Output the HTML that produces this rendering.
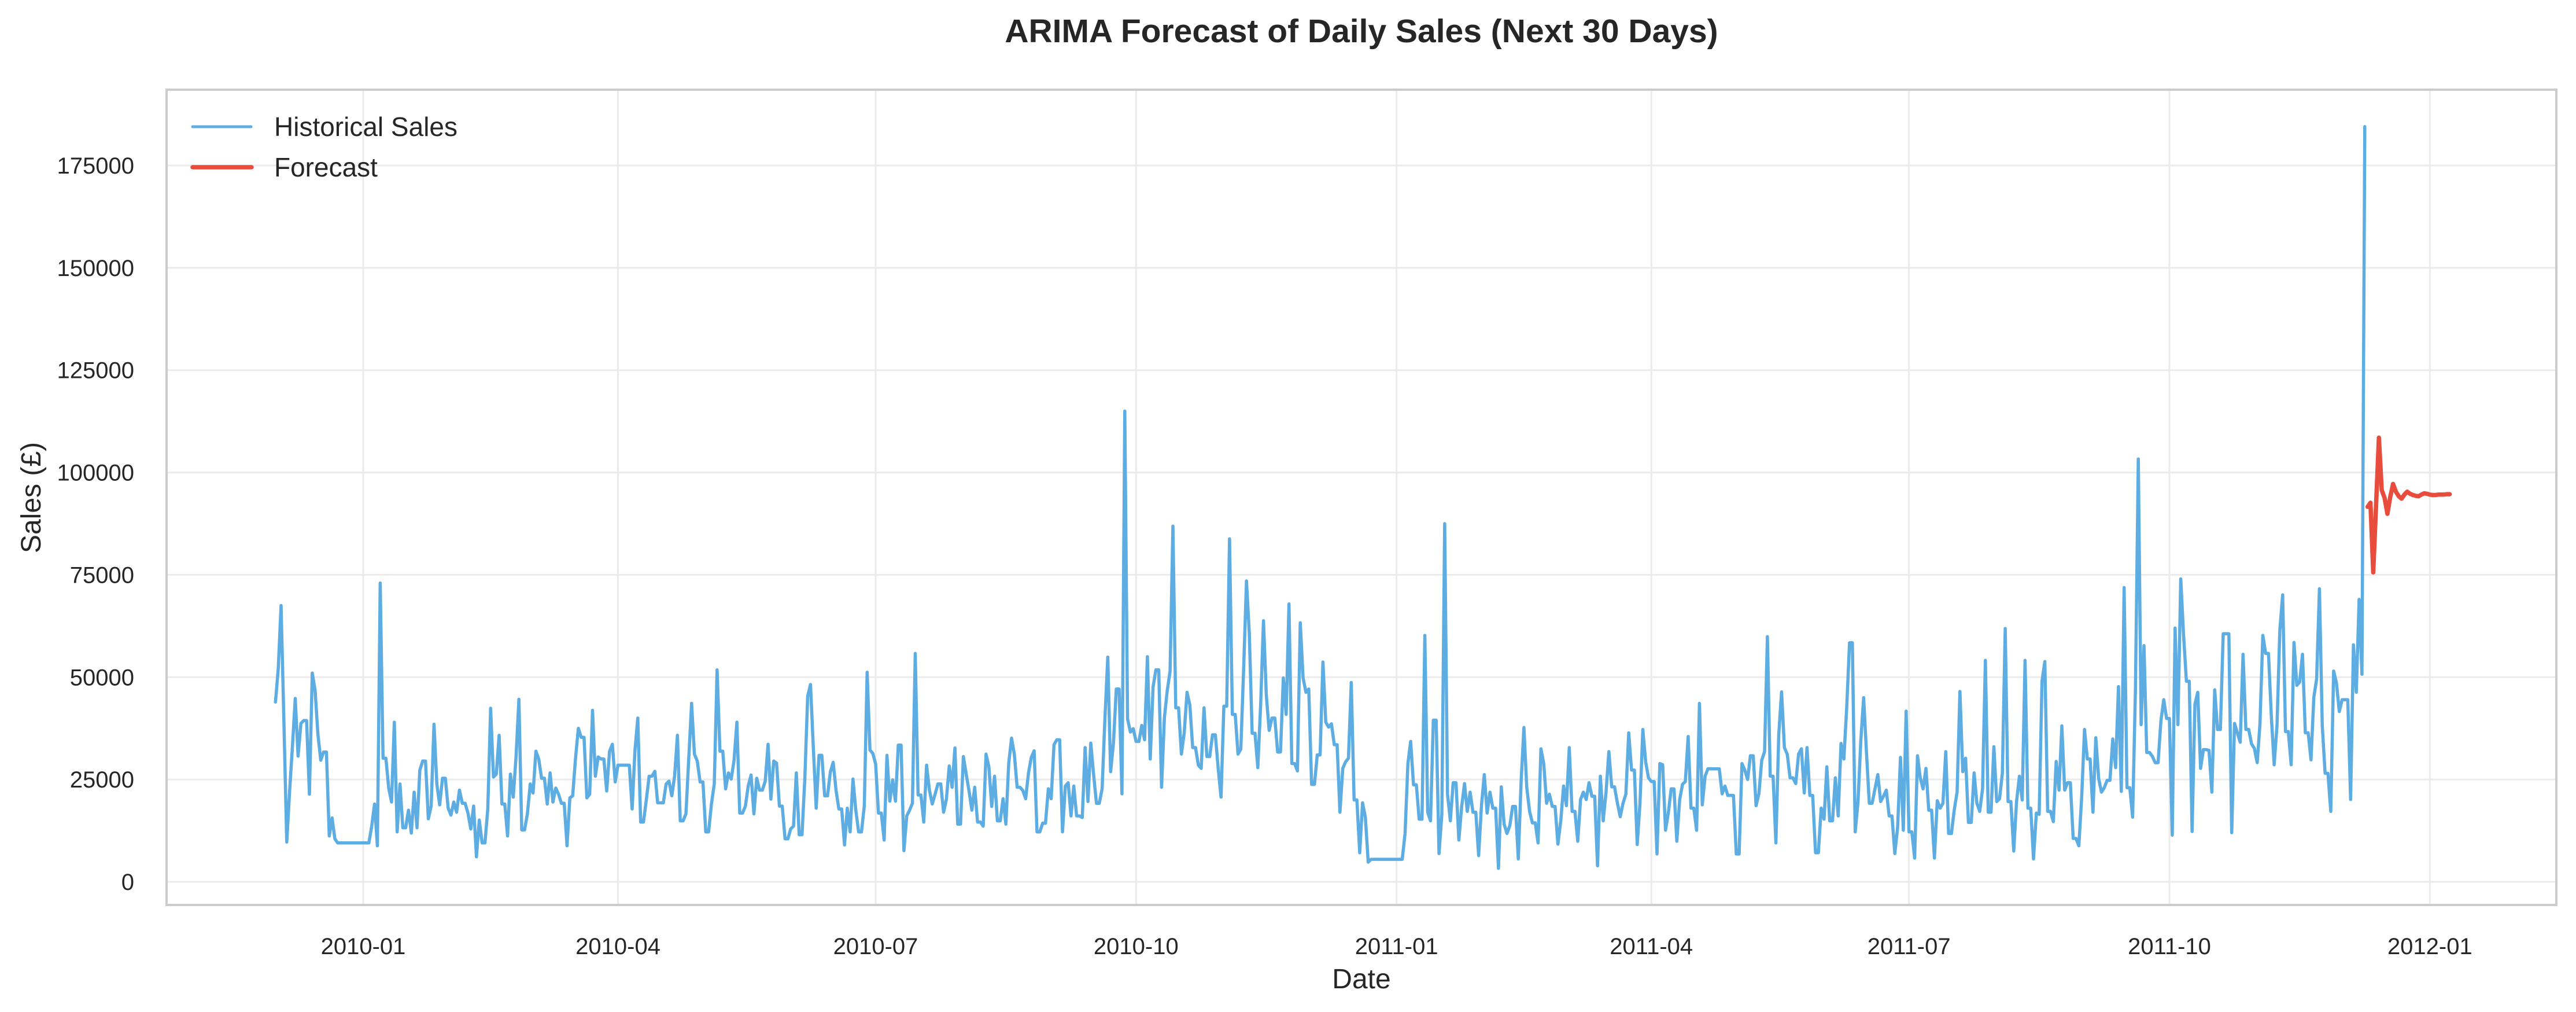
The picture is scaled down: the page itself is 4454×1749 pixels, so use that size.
<!DOCTYPE html>
<html><head><meta charset="utf-8"><title>ARIMA Forecast</title>
<style>
html,body{margin:0;padding:0;background:#fff;}
svg{display:block;font-family:"Liberation Sans",Arial,sans-serif;}
</style></head>
<body>
<svg id="chart" width="4454" height="1749" viewBox="0 0 4454 1749" xmlns="http://www.w3.org/2000/svg">
<rect x="0" y="0" width="4454" height="1749" fill="#fff"/>
<text x="2354" y="73" text-anchor="middle" font-size="57" font-weight="bold" fill="#262626">ARIMA Forecast of Daily Sales (Next 30 Days)</text>
<g id="grid"></g>
<g id="yticks"></g>
<g id="xticks"></g>
<g id="series"></g>
<rect x="288" y="155" width="4132" height="1409" fill="none" stroke="#cccccc" stroke-width="4"/>
<text x="2354" y="1708" text-anchor="middle" font-size="48" fill="#262626">Date</text>
<text transform="translate(70,860) rotate(-90)" text-anchor="middle" font-size="48" fill="#262626">Sales (£)</text>
<g>
  <g>
    <line x1="333" y1="219" x2="434" y2="219" stroke="#5DADE2" stroke-width="5" stroke-linecap="round"/>
    <text x="474" y="235" font-size="46" fill="#262626">Historical Sales</text>
  </g>
  <g>
    <line x1="333" y1="289" x2="435" y2="289" stroke="#E74C3C" stroke-width="7.5" stroke-linecap="round"/>
    <text x="474" y="305" font-size="46" fill="#262626">Forecast</text>
  </g>
</g>
</svg>
<script>
const histStart = "2009-12-01";
const fcStart = "2011-12-10";
const histValues = [43.9,52,67.5,39,9.7,22,33,44.8,30.7,38.7,39.4,39.4,21.4,51,46.8,36,29.7,31.7,31.7,11.2,15.6,10.5,
9.5,9.5,9.5,9.5,9.5,9.5,9.5,9.5,9.5,9.5,9.5,9.5,
13.6,19,8.8,73,30.2,30.2,22.9,19.5,39,12.2,23.9,13.2,13.2,17.5,11.9,21.9,13.2,27.3,29.5,29.5,15.4,18.5,38.5,23.9,18.8,25.3,25.3,
18,16.3,19.5,17,22.4,19.2,19.2,16.8,12.9,18.5,6.1,15.1,9.5,9.5,17.8,42.4,25.6,26.3,35.8,19,19,11.2,26.3,20.7,30.7,44.6,12.7,12.7,
16.6,23.9,21.7,31.9,30,25.3,25.3,19,26.6,19.5,22.9,21.4,19.2,19.2,8.8,20.5,21,30.2,37.5,35.3,35.3,20.5,21.4,41.9,25.8,30.5,30,30,
22.2,31.9,33.6,24.4,28.5,28.5,28.5,28.5,28.5,17.8,32.2,40,14.6,14.6,20,25.8,25.8,27,19.3,19.3,19.3,23.9,24.6,21,25.8,35.8,14.9,14.9,
16.6,30.2,43.6,31.2,29.5,24.4,24.4,12.2,12.2,19,23.9,51.8,31.9,31.9,22.7,26.6,25.1,29.7,39,16.8,16.8,18.5,23.4,26.1,16.6,25.3,22.4,22.4,
24.6,33.6,20.2,29.5,29,18.5,18.5,10.5,10.5,12.9,13.6,26.6,11.5,11.5,25.3,45.3,48.2,32.7,18,30.9,30.9,21,21,26.8,29.2,22.4,17.8,17.8,
9,18,12.2,25.1,17.5,12.2,12.2,18.5,51.2,32.2,31.4,28.8,16.8,16.8,10.2,30.9,19.7,24.9,19.7,33.4,33.4,7.6,16.1,17.5,19.2,55.8,21.2,21.2,
14.6,28.5,22.4,19,21.4,23.9,23.9,17,20.2,28.3,23.1,32.7,14.1,14.1,30.6,26.3,22.2,17.5,23.1,14.6,14.6,13.6,
31.2,28.1,18.4,25.8,14.9,14.9,20.3,14.1,28.9,35.1,31.2,23.1,23.1,22.3,20.3,26.6,30.4,32,12.2,12.2,14.3,14.3,22.7,20.3,33.5,34.7,34.7,
12.2,23.4,24.2,16.1,23.4,16.1,16.1,15.7,32.8,19.6,33.9,26.2,19.2,19.2,22.7,40.1,54.9,26.9,33.9,47.1,47.1,21.5,115,39.8,36.6,37.4,34.3,34.3,
38.2,34.7,55,30,47.6,51.8,51.8,23.1,40.1,46.7,51.4,86.9,42.5,42.5,31.2,36.3,46.3,43.2,32.8,32.8,28.5,27.7,42.5,30.6,30.6,35.9,35.9,
27.7,20.7,42.9,42.9,83.8,40.9,40.9,31.2,32.4,52,73.5,60.7,36.3,36.3,27.9,43.2,63.8,45.6,37,40,40,31.7,31.7,49.8,40.9,67.9,28.9,28.9,
27.1,63.3,49.8,46.3,47.1,23.8,23.8,31,31,53.7,39,37.8,38.6,33.5,33.5,17,27.7,29.3,30.2,48.7,20,20,7.1,19.3,15.7,4.8,
5.5,5.5,5.5,5.5,5.5,5.5,5.5,5.5,5.5,5.5,5.5,5.5,
11.8,28.9,34.3,23.7,23.7,15.3,15.3,60.2,17,14.9,39.5,39.5,6.9,16.5,87.5,21.4,14.9,24.2,24.2,10.2,18.4,24,17.2,21.9,17,17,6.4,18.6,
26.2,16.8,21.9,18,18,3.3,23.2,14.1,11.8,13.7,18.4,18.4,5.6,24.6,37.7,23.1,17.2,14.4,14.4,9.5,32.5,28.9,19.2,21.4,18.4,18.4,9.2,14.9,
23.4,18.6,32.8,17.2,17.2,9.9,20.1,21.9,20.1,24.2,20.9,20.9,3.9,25.8,14.9,21.9,31.8,23.2,23.2,19.3,15.9,19.2,21.4,36.4,27.3,27.3,9.1,
19.2,37.2,29.3,25.4,24.5,24.5,6.8,28.9,28.6,12.6,16.8,22.7,22.7,9.9,20.1,23.8,24.5,35.5,
18,18,12.6,43.6,18.8,25.8,27.6,27.6,27.6,27.6,27.6,21.5,23.4,21.1,21.1,21.1,6.8,6.8,28.9,27.3,25,30.8,30.8,18.6,21.5,29.7,31.8,59.9,
25.8,25.8,9.5,35.9,46.4,32.8,31.2,25.4,25.4,24,31.2,32.5,21.7,32.8,21.1,21.1,7.1,7.1,18,15.3,28.1,14.9,14.9,25.4,16.1,33.8,30,42.5,
58.4,58.4,12.2,19.6,34.7,45,31.6,19.2,19.2,22.7,26.2,19.6,20.9,22.4,16.1,16.1,6.9,13.4,30.4,12.6,41.7,12.2,12.2,5.8,30.8,25.4,22.7,
27.7,17.5,17.5,5.8,19.8,18,19.2,31.8,11.8,11.8,17.6,21.9,46.5,26.9,30.2,14.5,14.5,26.6,19.2,17.2,22.7,54.1,17,17,33,19.6,20.3,26.6,
61.9,19.6,19.6,7.5,19.6,25.8,20,54.1,18,18,5.6,16.8,16.5,49,53.8,17.2,17.2,14.7,29.4,22.4,38.1,22.4,24.2,24.2,10.6,10.6,8.8,20.7,
37.2,30,30,17,35.2,25.3,21.9,23,24.8,24.8,34.9,27.9,47.7,22.1,71.9,23,23,15.8,47.4,103.3,38.4,57.7,31.6,31.6,30.6,29.1,29.1,39.3,
44.5,39.9,39.9,11.4,62,38.4,74,60.2,49,49,12.3,43.4,46.3,27.7,32.3,32.3,32.1,21.9,46.9,37.2,37.2,60.6,60.6,60.6,12,38.7,36.4,34.1,
55.6,37.2,37.2,33.7,32.6,29.1,38.7,60.2,55.8,55.8,40.5,28.6,38.1,61.4,70.1,36.7,36.7,28.6,58.5,48,48.8,55.6,36.4,36.4,29.8,45.1,
49.5,71.6,38.1,26.5,26.5,17.2,51.5,48.6,41.6,44.5,44.5,44.5,20.1,57.9,46.3,69,50.7,184.5];
const fcValues = [91.6,92.6,75.6,92,108.5,95.7,93.8,89.9,94,97.2,95.3,94.2,93.6,94.6,95.3,94.8,94.5,94.3,94.2,94.6,94.9,94.8,94.6,94.5,94.5,94.6,94.6,94.6,94.7,94.7];
const yTicks = [0,25000,50000,75000,100000,125000,150000,175000];
const xTickLabels = ["2010-01","2010-04","2010-07","2010-10","2011-01","2011-04","2011-07","2011-10","2012-01"];

const NS = "http://www.w3.org/2000/svg";
const DAY = 86400000;
const ORIGIN = Date.UTC(2010,0,1);
function dayNum(s){const p=s.split("-").map(Number);return (Date.UTC(p[0],p[1]-1,p[2]||1)-ORIGIN)/DAY;}
function xScale(d){return 628 + d*4.895;}
function yScale(v){return 1524 - v*0.0070743;}
function mk(tag, attrs, parent){const e=document.createElementNS(NS,tag);for(const k in attrs)e.setAttribute(k,attrs[k]);parent.appendChild(e);return e;}

const grid=document.getElementById("grid"), yt=document.getElementById("yticks"), xt=document.getElementById("xticks"), ser=document.getElementById("series");
yTicks.forEach(v=>{
  const y=yScale(v);
  const l=mk("line",{x1:290,x2:4418,y1:y,y2:y,stroke:"#ebebeb","stroke-width":3},grid);
  
  
  const t=mk("text",{x:232,y:y+14,"text-anchor":"end","font-size":40,fill:"#262626"},yt);
  t.textContent=String(v);
  
  
});
xTickLabels.forEach(s=>{
  const x=xScale(dayNum(s));
  const l=mk("line",{x1:x,x2:x,y1:157,y2:1562,stroke:"#ebebeb","stroke-width":3},grid);
  
  
  const t=mk("text",{x:x,y:1649,"text-anchor":"middle","font-size":40,fill:"#262626"},xt);
  t.textContent=s;
  
  
});
const h0=dayNum(histStart);
const hp=histValues.map((v,i)=>xScale(h0+i).toFixed(1)+","+yScale(v*1000).toFixed(1)).join(" ");
const hl=mk("polyline",{points:hp,fill:"none",stroke:"#5DADE2","stroke-width":5.5,"stroke-linejoin":"round","stroke-linecap":"round"},ser);


const f0=dayNum(fcStart);
const fp=fcValues.map((v,i)=>xScale(f0+i).toFixed(1)+","+yScale(v*1000).toFixed(1)).join(" ");
const fl=mk("polyline",{points:fp,fill:"none",stroke:"#E74C3C","stroke-width":7.5,"stroke-linejoin":"round","stroke-linecap":"round"},ser);


</script>
</body></html>
